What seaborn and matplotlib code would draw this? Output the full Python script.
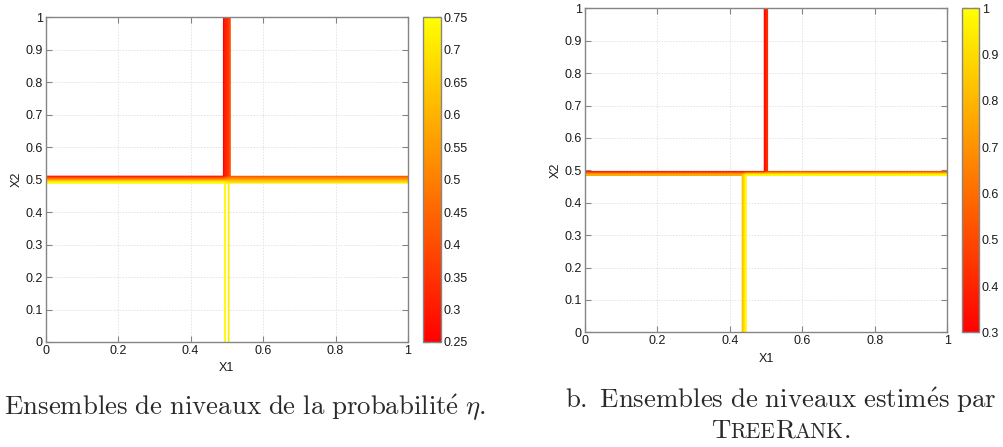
import numpy as np
import matplotlib
matplotlib.use("Agg")
import matplotlib.pyplot as plt
from matplotlib.offsetbox import TextArea, HPacker, AnchoredOffsetbox
import seaborn as sns

# Quadrant values of the true probability eta (left panel)
eta_split_x1 = 0.5
eta_split_x2 = 0.5
eta_top_left, eta_top_right = 0.25, 0.40
eta_bottom_left, eta_bottom_right = 0.75, 0.70
eta_ticks = [0.25, 0.3, 0.35, 0.4, 0.45, 0.5, 0.55, 0.6, 0.65, 0.7, 0.75]

# Piecewise-constant scores learned by TreeRank (right panel)
tr_split_x2 = 0.494
tr_split_x1_top = 0.496
tr_split_x1_bottom = 0.436
tr_top_left, tr_top_right = 0.30, 0.45
tr_bottom_left, tr_bottom_right = 0.80, 1.00
tr_ticks = [0.3, 0.4, 0.5, 0.6, 0.7, 0.8, 0.9, 1.0]

x_ticks = [0, 0.2, 0.4, 0.6, 0.8, 1.0]
y_ticks = [0, 0.1, 0.2, 0.3, 0.4, 0.5, 0.6, 0.7, 0.8, 0.9, 1.0]

sns.set_theme(style="white")
plt.rcParams["font.family"] = ["Liberation Sans", "DejaVu Sans"]
plt.rcParams["mathtext.fontset"] = "cm"
cmap = sns.color_palette("autumn", as_cmap=True)


def grid(n):
    g = np.r_[0.0, (np.arange(n) + 0.5) / n, 1.0]
    return np.meshgrid(g, g)


def quadrants(X1, X2, sx2, sx1_top, sx1_bot, tl, tr, bl, br):
    return np.where(X2 > sx2,
                    np.where(X1 < sx1_top, tl, tr),
                    np.where(X1 < sx1_bot, bl, br))


def fmt(v):
    return f"{v:.2f}".rstrip("0").rstrip(".")


E1, E2 = grid(50)
eta = quadrants(E1, E2, eta_split_x2, eta_split_x1, eta_split_x1,
                eta_top_left, eta_top_right, eta_bottom_left, eta_bottom_right)
T1, T2 = grid(100)
score = quadrants(T1, T2, tr_split_x2, tr_split_x1_top, tr_split_x1_bottom,
                  tr_top_left, tr_top_right, tr_bottom_left, tr_bottom_right)

fig = plt.figure(figsize=(10.04, 4.47), dpi=100)

panels = [
    dict(X=E1, Y=E2, z=eta, vmin=0.25, vmax=0.75, ticks=eta_ticks,
         ax=[0.0455, 0.2349, 0.3609, 0.7264], cax=[0.4210, 0.2349, 0.0179, 0.7264]),
    dict(X=T1, Y=T2, z=score, vmin=0.3, vmax=1.0, ticks=tr_ticks,
         ax=[0.5824, 0.2566, 0.3612, 0.7248], cax=[0.9578, 0.2566, 0.0175, 0.7248]),
]

spine_col = "#858585"
txt_col = "#1a1a1a"

for p in panels:
    ax = fig.add_axes(p["ax"])
    step = (p["vmax"] - p["vmin"]) / 20
    levels = np.arange(p["vmin"] + step / 2, p["vmax"], step)
    ax.contour(p["X"], p["Y"], p["z"], levels=levels, cmap=cmap,
               vmin=p["vmin"], vmax=p["vmax"], linewidths=1.3)
    ax.set_xlim(0, 1)
    ax.set_ylim(0, 1)
    ax.set_xticks(x_ticks)
    ax.set_xticklabels([fmt(v) for v in x_ticks])
    ax.set_yticks(y_ticks)
    ax.set_yticklabels([fmt(v) for v in y_ticks])
    ax.grid(True, color="#e3e3e3", linewidth=0.7, linestyle=(0, (1.5, 1.5)))
    ax.set_axisbelow(True)
    ax.tick_params(direction="in", length=4, width=0.8, color=spine_col,
                   labelsize=9, labelcolor=txt_col, top=True, right=True,
                   bottom=True, left=True, pad=2)
    for s in ax.spines.values():
        s.set_color(spine_col)
        s.set_linewidth(1.0)
    ax.set_xlabel("X1", fontsize=9, color=txt_col, labelpad=4)
    ax.set_ylabel("X2", fontsize=9, color=txt_col, labelpad=2)

    cax = fig.add_axes(p["cax"])
    sm = matplotlib.cm.ScalarMappable(
        norm=matplotlib.colors.Normalize(p["vmin"], p["vmax"]), cmap=cmap)
    cb = fig.colorbar(sm, cax=cax)
    cb.set_ticks(p["ticks"])
    cb.set_ticklabels([fmt(v) for v in p["ticks"]])
    cax.tick_params(direction="in", length=4, width=0.8, color=txt_col,
                    labelsize=9, labelcolor=txt_col, left=True, right=True, pad=2)
    cb.outline.set_edgecolor(spine_col)
    cb.outline.set_linewidth(1.0)

cap_col = "#2a2a2a"
cap_size = 19.3
fig.text(486 / 1004, 1 - 408 / 447,
         r"$\mathrm{a.\ Ensembles\ de\ niveaux\ de\ la\ probabilit\acute{e}}\ \eta.$",
         ha="right", va="center", fontsize=cap_size, color=cap_col)
fig.text(781 / 1004, 1 - 400 / 447,
         r"$\mathrm{b.\ Ensembles\ de\ niveaux\ estim\acute{e}s\ par}$",
         ha="center", va="center", fontsize=cap_size, color=cap_col)

# TreeRank set in small capitals
pieces = [("T", 1.0), ("REE", 0.8), ("R", 1.0), ("ANK", 0.8), (".", 1.0)]
boxes = [TextArea(s, textprops=dict(family="cmr10", fontsize=cap_size * k, color=cap_col))
         for s, k in pieces]
row = HPacker(children=boxes, align="baseline", pad=0, sep=0)
anch = AnchoredOffsetbox(loc="center", child=row, frameon=False, pad=0, borderpad=0,
                         bbox_to_anchor=(781 / 1004, 1 - 431 / 447),
                         bbox_transform=fig.transFigure)
fig.add_artist(anch)

fig.savefig("out.png", dpi=100)
